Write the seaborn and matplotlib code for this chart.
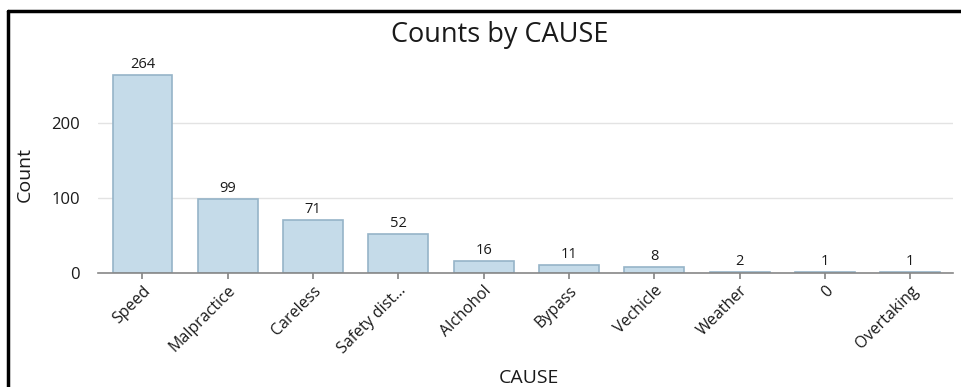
import matplotlib

matplotlib.use("Agg")
import matplotlib.pyplot as plt
import pandas as pd
import seaborn as sns
from matplotlib.lines import Line2D

causes = ["Speed", "Malpractice", "Careless", "Safety dist...", "Alchohol",
          "Bypass", "Vechicle", "Weather", "0", "Overtaking"]
counts = [264, 99, 71, 52, 16, 11, 8, 2, 1, 1]
y_ticks = [0, 100, 200]

df = pd.DataFrame({"CAUSE": causes, "Count": counts})

sns.set_theme(style="white")
plt.rcParams["font.family"] = ["Open Sans", "DejaVu Sans"]
plt.rcParams["text.color"] = "#1a1a1a"
plt.rcParams["xtick.color"] = "#1a1a1a"
plt.rcParams["ytick.color"] = "#1a1a1a"
plt.rcParams["axes.labelcolor"] = "#1a1a1a"

fig = plt.figure(figsize=(9.61, 3.87), dpi=100)
ax = fig.add_axes([98 / 961, 1 - 273 / 387, (953 - 98) / 961, (273 - 58) / 387])

sns.barplot(data=df, x="CAUSE", y="Count", color="#c5dbe9", saturation=1,
            edgecolor="#96b4c8", linewidth=1.2, width=0.7, ax=ax)

for i, v in enumerate(counts):
    ax.text(i, v + 4, str(v), ha="center", va="bottom", fontsize=10.5)

ax.set_xlim(-0.52, 9.5)
ax.set_ylim(0, 287)
ax.set_yticks(y_ticks)
ax.yaxis.grid(True, color="#e3e3e3", linewidth=1)
ax.set_axisbelow(True)
for side in ["left", "right", "top"]:
    ax.spines[side].set_visible(False)
ax.spines["bottom"].set_color("#888888")
ax.spines["bottom"].set_linewidth(1.2)
ax.tick_params(axis="x", bottom=True, length=4, color="#888888", labelsize=11.5, pad=3)
ax.tick_params(axis="y", left=False, labelsize=12, pad=7)
plt.setp(ax.get_xticklabels(), rotation=45, ha="right", rotation_mode="anchor")

ax.set_xlabel("")
ax.set_ylabel("")
fig.text(529 / 961, 1 - 378 / 387, "CAUSE", ha="center", va="center", fontsize=14)
fig.text(25 / 961, 1 - 174 / 387, "Count", ha="center", va="center", rotation=90, fontsize=14)
fig.text(500 / 961, 1 - 35 / 387, "Counts by CAUSE", ha="center", va="center", fontsize=19.5)

# frame lines on the left and top edges
fig.add_artist(Line2D([8 / 961, 8 / 961], [0, 1 - 11 / 387], transform=fig.transFigure,
                      color="black", linewidth=2.5))
fig.add_artist(Line2D([8 / 961, 1], [1 - 11 / 387, 1 - 11 / 387], transform=fig.transFigure,
                      color="black", linewidth=2.5))

fig.savefig("out.png", dpi=100)
